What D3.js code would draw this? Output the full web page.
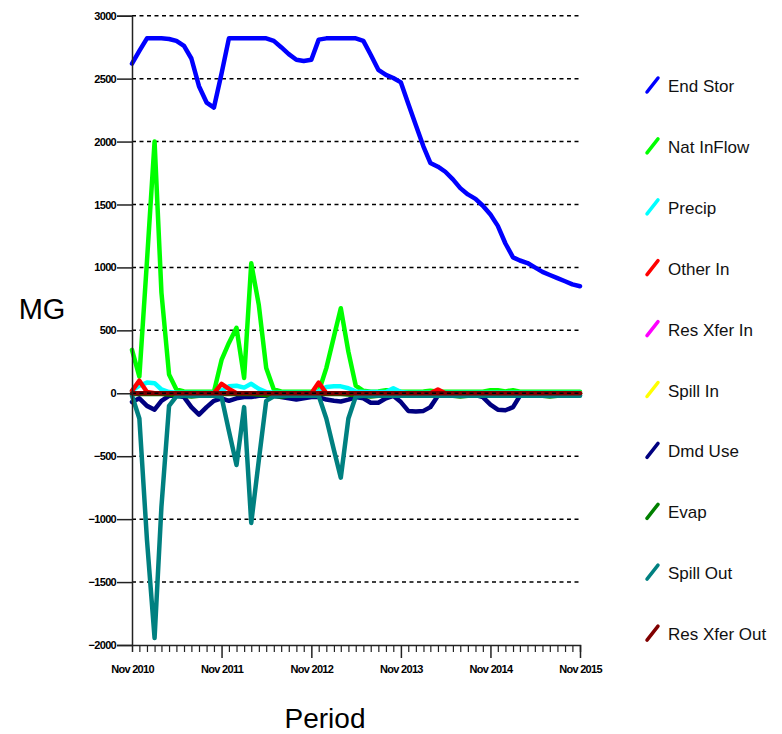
<!DOCTYPE html>
<html>
<head>
<meta charset="utf-8">
<script src="https://cdn.jsdelivr.net/npm/d3@7"></script>
<style>
  body { margin: 0; background: #fff; }
  svg { display: block; }
  .tick text { font-family: "Liberation Sans", Arial, sans-serif; font-weight: bold; font-size: 11px; letter-spacing: -0.7px; fill: #000; }
</style>
</head>
<body>
<svg id="canvas" width="782" height="734"></svg>
<script>
// monthly periods, Nov 2010 .. Nov 2015
let startMonth = new Date(2010, 10, 1)
let endMonth = new Date(2015, 10, 1)

let seriesNames = ['End Stor', 'Nat InFlow', 'Precip', 'Other In', 'Res Xfer In',
                   'Spill In', 'Dmd Use', 'Evap', 'Spill Out', 'Res Xfer Out']
let seriesColors = ['#0000ff', '#00ff00', '#00ffff', '#ff0000', '#ff00ff',
                    '#ffff00', '#000080', '#008000', '#008080', '#800000']

let endStor = [2620,2720,2820,2820,2820,2815,2800,2760,2660,2440,2310,2270,2540,2820,2820,2820,
               2820,2820,2820,2800,2750,2695,2650,2640,2650,2810,2820,2820,2820,2820,2820,2800,
               2690,2570,2530,2505,2470,2300,2130,1960,1830,1800,1760,1700,1630,1580,1545,1490,
               1420,1330,1190,1080,1055,1035,1000,965,940,915,890,865,850]
let natInflow = [345,133,1050,2000,800,150,30,15,12,12,12,12,265,400,520,122,
                 1033,700,200,30,15,12,12,12,12,12,200,450,676,330,60,20,
                 12,15,25,25,12,12,12,15,20,12,12,12,12,12,12,12,
                 25,25,15,25,12,12,12,12,12,12,12,12,12]
let precip = [20,60,85,80,30,10,5,5,5,5,5,5,20,55,60,45,
              75,35,10,5,5,5,5,5,5,15,50,55,55,40,15,10,
              10,10,10,40,10,5,5,5,5,5,5,5,5,5,5,5,
              5,5,5,5,5,5,5,5,5,5,5,5,5]
let otherIn = [20,100,10,0,0,0,0,0,0,0,0,0,75,35,0,0,
               0,0,0,0,0,0,0,0,0,85,0,0,0,0,0,0,
               0,0,0,0,0,0,0,0,0,30,0,0,0,0,0,0,
               0,0,0,0,0,0,0,0,0,0,0,0,0]
let resXferIn = [0,0,0,0,0,0,0,0,0,0,0,0,0,0,0,0,
                 0,0,0,0,0,0,0,0,0,0,0,0,0,0,0,0,
                 0,0,0,0,0,0,0,0,0,0,0,0,0,0,0,0,
                 0,0,0,0,0,0,0,0,0,0,0,0,0]
let spillIn = [0,0,0,0,0,0,0,0,0,0,0,0,0,0,0,0,
               0,0,0,0,0,0,0,0,0,0,0,0,0,0,0,0,
               0,0,0,0,0,0,0,0,0,0,0,0,0,0,0,0,
               0,0,0,0,0,0,0,0,0,0,0,0,0]
let dmdUse = [-70,-40,-100,-130,-60,-20,-20,-30,-110,-170,-110,-60,-40,-60,-40,-30,
              -30,-20,-20,-20,-30,-40,-50,-40,-30,-30,-50,-60,-65,-50,-30,-40,
              -75,-75,-40,-20,-70,-140,-145,-140,-110,-20,-15,-15,-15,-15,-15,-30,
              -90,-130,-135,-110,-20,-15,-15,-15,-15,-15,-15,-15,-15]
let evap = [-5,-5,-5,-5,-5,-10,-15,-20,-25,-20,-10,-5,-5,-5,-5,-5,
            -5,-10,-15,-20,-25,-20,-10,-5,-5,-5,-5,-5,-5,-10,-15,-20,
            -25,-20,-10,-5,-5,-5,-5,-5,-5,-10,-15,-20,-25,-20,-10,-5,
            -5,-5,-5,-5,-5,-10,-15,-20,-25,-20,-10,-5,-5]
let spillOut = [-20,-200,-1165,-1945,-900,-100,-25,-20,-20,-20,-20,-20,-30,-300,-570,-110,
                -1030,-530,-60,-25,-20,-20,-20,-20,-20,-20,-200,-450,-670,-200,-25,-20,
                -20,-20,-20,-20,-20,-20,-20,-20,-20,-20,-20,-20,-20,-20,-20,-20,
                -20,-20,-20,-20,-20,-20,-20,-20,-20,-20,-20,-20,-20]
let resXferOut = [0,0,0,0,0,0,0,0,0,0,0,0,0,0,0,0,
                  0,0,0,0,0,0,0,0,0,0,0,0,0,0,0,0,
                  0,0,0,0,0,0,0,0,0,0,0,0,0,0,0,0,
                  0,0,0,0,0,0,0,0,0,0,0,0,0]

let yTicks = [3000, 2500, 2000, 1500, 1000, 500, 0, -500, -1000, -1500, -2000]
let yearTicks = ['Nov 2010', 'Nov 2011', 'Nov 2012', 'Nov 2013', 'Nov 2014', 'Nov 2015']

let allSeries = [endStor, natInflow, precip, otherIn, resXferIn,
                 spillIn, dmdUse, evap, spillOut, resXferOut]

let canvas = d3.select('#canvas')

let periods = d3.timeMonth.range(startMonth, d3.timeMonth.offset(endMonth, 1))

let xScale = d3.scaleTime()
               .domain([startMonth, endMonth])
               .range([132, 580])
let yScale = d3.scaleLinear()
               .domain([-2000, 3000])
               .range([645, 15.7])

// dashed grid
canvas.append('g')
      .selectAll('line')
      .data(yTicks.filter((v) => v > -2000))
      .enter()
      .append('line')
      .attr('x1', 132)
      .attr('x2', 580)
      .attr('y1', (v) => yScale(v))
      .attr('y2', (v) => yScale(v))
      .attr('stroke', '#000')
      .attr('stroke-width', 1.5)
      .attr('stroke-dasharray', '4,3.5')

// series
let line = d3.line()
             .x((d, i) => xScale(periods[i]))
             .y((d) => yScale(d))

canvas.append('g')
      .selectAll('path')
      .data(allSeries)
      .enter()
      .append('path')
      .attr('d', (s) => line(s))
      .attr('fill', 'none')
      .attr('stroke', (s, i) => seriesColors[i])
      .attr('stroke-width', 4.5)
      .attr('stroke-linejoin', 'round')
      .attr('stroke-linecap', 'round')

// zero line shows over the data
canvas.append('line')
      .attr('x1', 132)
      .attr('x2', 580)
      .attr('y1', yScale(0))
      .attr('y2', yScale(0))
      .attr('stroke', '#000')
      .attr('stroke-width', 1.5)
      .attr('stroke-dasharray', '4,3.5')

// y axis
let yAxis = d3.axisLeft(yScale)
              .tickValues(yTicks)
              .tickSize(15)
              .tickPadding(1)
              .tickFormat(d3.format('d'))
canvas.append('g')
      .attr('transform', 'translate(132, 0)')
      .call(yAxis)
      .call((g) => g.select('.domain').attr('stroke', '#222').attr('stroke-width', 1.5))
      .call((g) => g.selectAll('.tick line').attr('stroke', '#222').attr('stroke-width', 1.5))

// x axis: monthly minor ticks, yearly labels
let minorTicks = d3.timeMonth.range(d3.timeMonth.offset(startMonth, 1), endMonth)
                   .filter((d) => d.getMonth() !== 10)
let xMinor = d3.axisBottom(xScale)
               .tickValues(minorTicks)
               .tickSize(7)
               .tickFormat('')
let xMajor = d3.axisBottom(xScale)
               .tickValues(d3.timeYear.range(new Date(2010, 0, 1), new Date(2016, 0, 1))
                             .map((d) => new Date(d.getFullYear(), 10, 1)))
               .tickSize(13)
               .tickPadding(6)
               .tickFormat((d, i) => yearTicks[i])

canvas.append('g')
      .attr('transform', 'translate(0, 645)')
      .call(xMinor)
      .call((g) => g.select('.domain').attr('stroke', '#222').attr('stroke-width', 1.5))
      .call((g) => g.selectAll('.tick line').attr('stroke', '#222').attr('stroke-width', 1.2))

canvas.append('g')
      .attr('transform', 'translate(0, 645)')
      .call(xMajor)
      .call((g) => g.select('.domain').remove())
      .call((g) => g.selectAll('.tick line').attr('stroke', '#222').attr('stroke-width', 1.5)
                    .filter((d, i) => i === 0).remove())
      .call((g) => g.selectAll('.tick text').attr('dy', 0).attr('y', 28))

// axis titles
canvas.append('text')
      .attr('x', 42)
      .attr('y', 319)
      .attr('text-anchor', 'middle')
      .style('font-family', '"Liberation Sans", Arial, sans-serif')
      .style('font-size', '29px')
      .text('MG')

canvas.append('text')
      .attr('x', 325)
      .attr('y', 728)
      .attr('text-anchor', 'middle')
      .style('font-family', '"Liberation Sans", Arial, sans-serif')
      .style('font-size', '28px')
      .text('Period')

// legend
let legend = canvas.append('g')
                   .selectAll('g')
                   .data(seriesNames)
                   .enter()
                   .append('g')
                   .attr('transform', (d, i) => 'translate(646, ' + (86 + i * 60.9) + ')')

legend.append('line')
      .attr('x1', 1)
      .attr('y1', 6)
      .attr('x2', 12)
      .attr('y2', -8)
      .attr('stroke', (d, i) => seriesColors[i])
      .attr('stroke-width', 3.5)
      .attr('stroke-linecap', 'round')

legend.append('text')
      .attr('x', 22)
      .attr('y', 6)
      .style('font-family', '"Liberation Sans", Arial, sans-serif')
      .style('font-size', '17px')
      .attr('fill', '#111')
      .text((d) => d)
</script>
</body>
</html>
